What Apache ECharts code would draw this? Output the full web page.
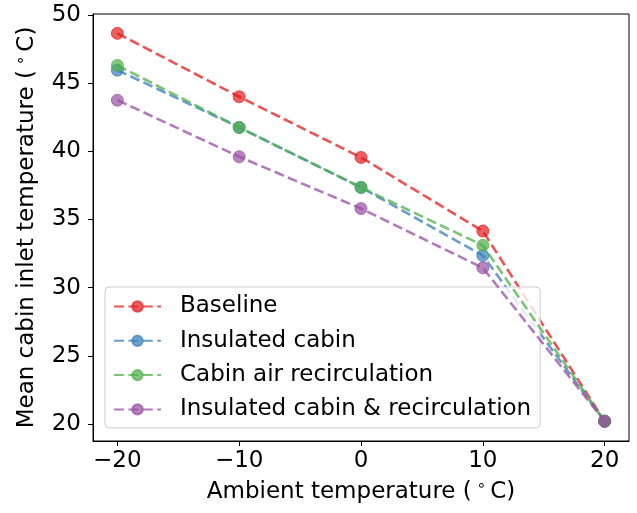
<!DOCTYPE html>
<html>
<head>
<meta charset="utf-8">
<script src="https://cdn.jsdelivr.net/npm/echarts@6/dist/echarts.min.js"></script>
<style>
html,body{margin:0;padding:0;background:#fff;}
#chart{width:637px;height:513px;}
</style>
</head>
<body>
<div id="chart"></div>
<script>
const xValues = [-20, -10, 0, 10, 20];
const baseline = [48.65, 44.0, 39.55, 34.15, 20.2];
const insulatedCabin = [45.95, 41.75, 37.35, 32.35, 20.2];
const cabinRecirc = [46.3, 41.75, 37.35, 33.1, 20.2];
const insulatedRecirc = [43.75, 39.6, 35.8, 31.45, 20.2];
const seriesNames = ['Baseline', 'Insulated cabin', 'Cabin air recirculation', 'Insulated cabin & recirculation'];
const seriesColors = ['#e41a1c', '#377eb8', '#4daf4a', '#984ea3'];
const xTicks = [-20, -10, 0, 10, 20];
const yTicks = [20, 25, 30, 35, 40, 45, 50];

const FONT = 'DejaVu Sans';
const FS = 23;
const allData = [baseline, insulatedCabin, cabinRecirc, insulatedRecirc];

function fmt(v){ return v < 0 ? '\u2212' + Math.abs(v) : String(v); }

const richName = {
  a: {fontFamily: FONT, fontSize: FS, color: '#000', lineHeight: 26},
  d: {fontFamily: FONT, fontSize: 15, color: '#000', lineHeight: 26, padding: [0, 4, 11, 5]}
};

const chart = echarts.init(document.getElementById('chart'), null, {renderer:'canvas'});
chart.setOption({
  animation: false,
  backgroundColor: '#fff',
  grid: {left: 93, right: 8, top: 14, bottom: 72, show: true, borderColor: '#000', borderWidth: 1, backgroundColor: 'transparent'},
  xAxis: {
    type: 'value', min: -22, max: 22,
    name: '{a|Ambient temperature (}{d|\u2218}{a|C)}', nameLocation: 'middle', nameGap: 38,
    nameTextStyle: {fontFamily: FONT, fontSize: FS, color: '#000', rich: richName},
    axisLine: {show: true, onZero: false, lineStyle: {color: '#000', width: 1}},
    axisTick: {show: true, length: 5, lineStyle: {color: '#000', width: 1}, customValues: xTicks},
    axisLabel: {fontFamily: FONT, fontSize: FS, color: '#000', margin: 9, customValues: xTicks, formatter: fmt},
    splitLine: {show: false}
  },
  yAxis: {
    type: 'value', min: 18.75, max: 50.07,
    name: '{a|Mean cabin inlet temperature (}{d|\u2218}{a|C)}', nameLocation: 'middle', nameGap: 53, nameRotate: 90,
    nameTextStyle: {fontFamily: FONT, fontSize: FS, color: '#000', rich: richName},
    axisLine: {show: true, onZero: false, lineStyle: {color: '#000', width: 1}},
    axisTick: {show: true, length: 5, lineStyle: {color: '#000', width: 1}, customValues: yTicks},
    axisLabel: {fontFamily: FONT, fontSize: FS, color: '#000', margin: 12, customValues: yTicks, formatter: fmt},
    splitLine: {show: false}
  },
  legend: {
    orient: 'vertical', left: 105, top: 287,
    padding: [8, 9, 7, 8], itemGap: 11.3,
    itemWidth: 47, itemHeight: 13,
    backgroundColor: 'rgba(255,255,255,0.8)', borderColor: '#cccccc', borderWidth: 1, borderRadius: 4,
    textStyle: {fontFamily: FONT, fontSize: FS, color: '#000', padding: [0, 0, 0, 14], lineHeight: 23},
    data: seriesNames
  },
  series: allData.map((d, i) => ({
    name: seriesNames[i],
    type: 'line',
    data: xValues.map((x, j) => [x, d[j]]),
    symbol: 'circle', symbolSize: 12,
    lineStyle: {color: seriesColors[i], width: 2.6, type: [10, 4.4], opacity: 0.75},
    itemStyle: {color: seriesColors[i], opacity: 0.7, borderColor: seriesColors[i], borderWidth: 1},
    z: 2 + i
  }))
});
</script>
</body>
</html>
